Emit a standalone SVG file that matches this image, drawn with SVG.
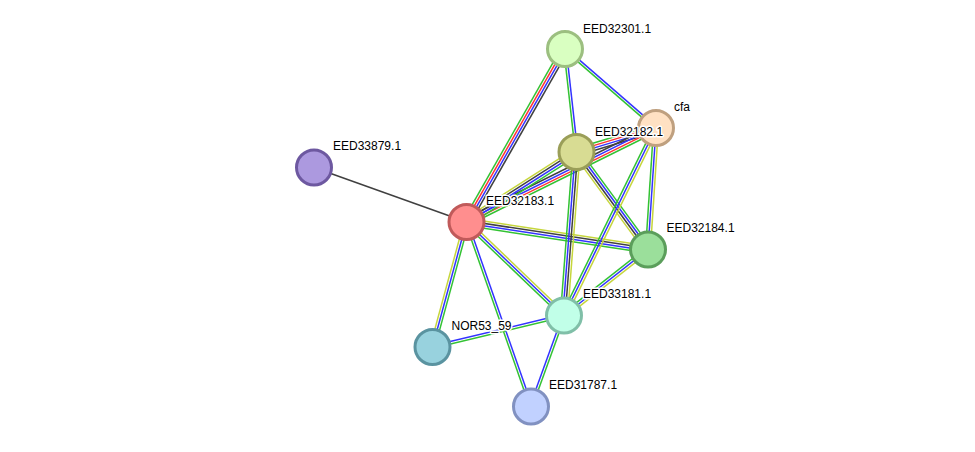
<svg xmlns="http://www.w3.org/2000/svg" width="975" height="452" viewBox="0 0 975 452">
<style>
line{stroke-width:1.5;fill:none}
.g{stroke:#33c233}.b{stroke:#3333ff}.r{stroke:#ff3333}.k{stroke:#404040}.y{stroke:#c6d63c}
circle{stroke-width:3}
text{font-family:"Liberation Sans",Arial,sans-serif;font-size:12px;fill:#000;stroke:#fff;stroke-width:3;stroke-linejoin:round;paint-order:stroke}
</style>
<rect width="975" height="452" fill="#fff"/>
<g id="edges">
<line class="k" x1="466.5" y1="222" x2="314" y2="167.5"/>
<line class="g" x1="463.37" y1="220.22" x2="561.87" y2="47.22"/>
<line class="r" x1="465.46" y1="221.41" x2="563.96" y2="48.41"/>
<line class="b" x1="467.54" y1="222.59" x2="566.04" y2="49.59"/>
<line class="k" x1="469.63" y1="223.78" x2="568.13" y2="50.78"/>
<line class="g" x1="563.81" y1="49.13" x2="575.31" y2="152.13"/>
<line class="b" x1="566.19" y1="48.87" x2="577.69" y2="151.87"/>
<line class="g" x1="564.21" y1="49.91" x2="655.21" y2="128.91"/>
<line class="b" x1="565.79" y1="48.09" x2="656.79" y2="127.09"/>
<line class="g" x1="575.46" y1="148.55" x2="654.96" y2="124.55"/>
<line class="r" x1="576.15" y1="150.85" x2="655.65" y2="126.85"/>
<line class="b" x1="576.85" y1="153.15" x2="656.35" y2="129.15"/>
<line class="k" x1="577.54" y1="155.45" x2="657.04" y2="131.45"/>
<line class="k" x1="464.9" y1="218.77" x2="654.4" y2="124.77"/>
<line class="b" x1="465.97" y1="220.92" x2="655.47" y2="126.92"/>
<line class="r" x1="467.03" y1="223.08" x2="656.53" y2="129.08"/>
<line class="g" x1="468.1" y1="225.23" x2="657.6" y2="131.23"/>
<line class="y" x1="464.57" y1="218.96" x2="574.57" y2="148.96"/>
<line class="k" x1="465.86" y1="220.99" x2="575.86" y2="150.99"/>
<line class="b" x1="467.14" y1="223.01" x2="577.14" y2="153.01"/>
<line class="g" x1="468.43" y1="225.04" x2="578.43" y2="155.04"/>
<line class="y" x1="467.04" y1="218.44" x2="648.54" y2="245.94"/>
<line class="k" x1="466.68" y1="220.81" x2="648.18" y2="248.31"/>
<line class="b" x1="466.32" y1="223.19" x2="647.82" y2="250.69"/>
<line class="g" x1="465.96" y1="225.56" x2="647.46" y2="253.06"/>
<line class="g" x1="579.4" y1="149.87" x2="650.9" y2="247.37"/>
<line class="b" x1="577.47" y1="151.29" x2="648.97" y2="248.79"/>
<line class="k" x1="575.53" y1="152.71" x2="647.03" y2="250.21"/>
<line class="y" x1="573.6" y1="154.13" x2="645.1" y2="251.63"/>
<line class="g" x1="572.91" y1="151.73" x2="560.41" y2="315.23"/>
<line class="b" x1="575.3" y1="151.91" x2="562.8" y2="315.41"/>
<line class="k" x1="577.7" y1="152.09" x2="565.2" y2="315.59"/>
<line class="y" x1="580.09" y1="152.27" x2="567.59" y2="315.77"/>
<line class="g" x1="653.6" y1="127.84" x2="645.6" y2="249.34"/>
<line class="b" x1="656" y1="128" x2="648" y2="249.5"/>
<line class="y" x1="658.4" y1="128.16" x2="650.4" y2="249.66"/>
<line class="g" x1="653.84" y1="126.94" x2="561.84" y2="314.44"/>
<line class="b" x1="656" y1="128" x2="564" y2="315.5"/>
<line class="y" x1="658.16" y1="129.06" x2="566.16" y2="316.56"/>
<line class="g" x1="646.52" y1="247.61" x2="562.52" y2="313.61"/>
<line class="b" x1="648" y1="249.5" x2="564" y2="315.5"/>
<line class="y" x1="649.48" y1="251.39" x2="565.48" y2="317.39"/>
<line class="y" x1="468.16" y1="220.27" x2="565.66" y2="313.77"/>
<line class="b" x1="466.5" y1="222" x2="564" y2="315.5"/>
<line class="g" x1="464.84" y1="223.73" x2="562.34" y2="317.23"/>
<line class="y" x1="464.18" y1="221.37" x2="430.18" y2="346.37"/>
<line class="b" x1="466.5" y1="222" x2="432.5" y2="347"/>
<line class="g" x1="468.82" y1="222.63" x2="434.82" y2="347.63"/>
<line class="g" x1="465.37" y1="222.4" x2="529.87" y2="406.9"/>
<line class="b" x1="467.63" y1="221.6" x2="532.13" y2="406.1"/>
<line class="b" x1="432.22" y1="345.83" x2="563.72" y2="314.33"/>
<line class="g" x1="432.78" y1="348.17" x2="564.28" y2="316.67"/>
<line class="b" x1="562.87" y1="315.09" x2="529.87" y2="406.09"/>
<line class="g" x1="565.13" y1="315.91" x2="532.13" y2="406.91"/>
</g>
<g id="EED33879.1"><circle cx="314" cy="167.5" r="17.5" fill="#ac99df" stroke="#6d58a0"/></g>
<g id="EED32183.1"><circle cx="466.5" cy="222" r="17.5" fill="#ff8e8e" stroke="#c05a5a"/></g>
<g id="EED32301.1"><circle cx="565" cy="49" r="17.5" fill="#d9ffc1" stroke="#9cbf80"/></g>
<g id="cfa"><circle cx="656" cy="128" r="17.5" fill="#ffe1c3" stroke="#bfa07f"/></g>
<g id="EED32182.1"><circle cx="576.5" cy="152" r="17.5" fill="#d8dc93" stroke="#9a9e58"/></g>
<g id="EED32184.1"><circle cx="648" cy="249.5" r="17.5" fill="#9bdf9b" stroke="#5b9e5b"/></g>
<g id="EED33181.1"><circle cx="564" cy="315.5" r="17.5" fill="#c1ffe8" stroke="#80bfa8"/></g>
<g id="NOR53_59"><circle cx="432.5" cy="347" r="17.5" fill="#98d2de" stroke="#5a93a0"/></g>
<g id="EED31787.1"><circle cx="531" cy="406.5" r="17.5" fill="#c1d1ff" stroke="#8191c1"/></g>
<g id="labels">
<text x="333" y="150">EED33879.1</text>
<text x="486" y="205">EED32183.1</text>
<text x="583" y="33">EED32301.1</text>
<text x="674" y="111">cfa</text>
<text x="595" y="135.5">EED32182.1</text>
<text x="666.5" y="232">EED32184.1</text>
<text x="583" y="298">EED33181.1</text>
<text x="451.5" y="330">NOR53_59</text>
<text x="549" y="389">EED31787.1</text>
</g>
</svg>
